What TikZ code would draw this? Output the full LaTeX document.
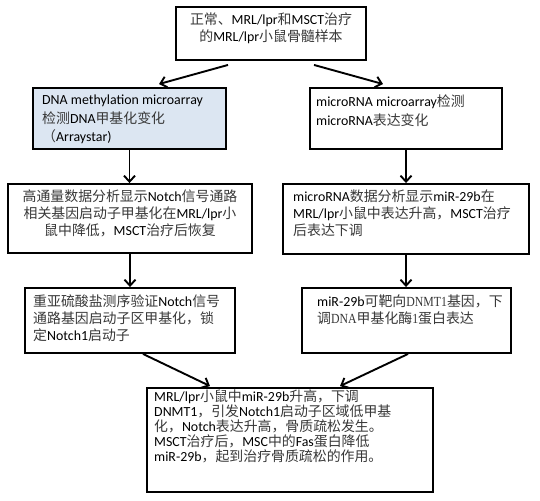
\documentclass[tikz,border=0pt]{standalone}
\usepackage{fontspec}
\setmainfont{Carlito}
\newfontfamily\cjkf{Noto Sans CJK SC}
\newfontfamily\lser{Liberation Serif}[FakeStretch=0.85]
\newcommand\zh[1]{{\cjkf\color{black!78}#1}}
\newcommand\ls[1]{{\lser\color{black!78}#1}}
\usetikzlibrary{arrows.meta}
\definecolor{lblue}{RGB}{220,230,242}
\begin{document}
\begin{tikzpicture}[x=1pt,y=-1pt,
  boxst/.style={draw=black,line width=1.9pt,inner sep=0pt},
  txt/.style={inner sep=0pt,align=left,font=\fontsize{13.9pt}{17pt}\selectfont},
  txtc/.style={inner sep=0pt,align=center,font=\fontsize{13.9pt}{17pt}\selectfont},
  arr/.style={line width=1.9pt,-{Straight Barb[length=6pt,width=11pt,line width=1.9pt]}}]
\fill[white] (0,0) rectangle (540,500);
\useasboundingbox (0,0) rectangle (540,500);
% boxes
\node[boxst,minimum width=190pt,minimum height=53pt] (top) at (271,33.5) {};
\node[boxst,fill=lblue,minimum width=193pt,minimum height=61pt] (L2) at (129.5,118.5) {};
\node[boxst,minimum width=192pt,minimum height=61pt] (R2) at (406,118.5) {};
\node[boxst,minimum width=244pt,minimum height=69pt] (L3) at (130,218.5) {};
\node[boxst,minimum width=246pt,minimum height=70pt] (R3) at (406,219) {};
\node[boxst,minimum width=210pt,minimum height=65pt] (L4) at (130,320.5) {};
\node[boxst,minimum width=209pt,minimum height=65pt] (R4) at (406.5,320.5) {};
\node[boxst,minimum width=286pt,minimum height=104pt] (F) at (290,440) {};
% texts
\node[txtc,anchor=north] (ttop) at (271,13) {\zh{正常、}MRL/lpr\zh{和}MSCT\zh{治疗}\\\zh{的}MRL/lpr\zh{小鼠骨髓样本}};
\node[txt,anchor=north west,font=\fontsize{13.9pt}{18.5pt}\selectfont] (tL2) at (42,95) {DNA methylation microarray\\\zh{检测}DNA\zh{甲基化变化}\\\zh{（}Arraystar)};
\node[txt,anchor=north west,font=\fontsize{13.9pt}{18.5pt}\selectfont] (tR2) at (316,95) {microRNA microarray\zh{检测}\\microRNA\zh{表达变化}};
\node[txtc,anchor=north] (tL3) at (130,190) {\zh{高通量数据分析显示}Notch\zh{信号通路}\\\zh{相关基因启动子甲基化在}MRL/lpr\zh{小}\\\zh{鼠中降低，}MSCT\zh{治疗后恢复}};
\node[txt,anchor=north west] (tR3) at (293,190) {microRNA\zh{数据分析显示}miR-29b\zh{在}\\MRL/lpr\zh{小鼠中表达升高，}MSCT\zh{治疗}\\\zh{后表达下调}};
\node[txt,anchor=north west] (tL4) at (33,295) {\zh{重亚硫酸盐测序验证}Notch\zh{信号}\\\zh{通路基因启动子区甲基化，锁}\\\zh{定}Notch1\zh{启动子}};
\node[txt,anchor=north west] (tR4) at (317,295) {miR-29b\zh{可靶向}\ls{DNMT1}\zh{基因，下}\\\zh{调}\ls{DNA}\zh{甲基化酶}\ls{1}\zh{蛋白表达}};
\node[txt,anchor=north west,font=\fontsize{13.9pt}{15pt}\selectfont] (tF) at (154,390) {MRL/lpr\zh{小鼠中}miR-29b\zh{升高，下调}\\DNMT1\zh{，引发}Notch1\zh{启动子区域低甲基}\\\zh{化，}Notch\zh{表达升高，骨质疏松发生。}\\MSCT\zh{治疗后，}MSC\zh{中的}Fas\zh{蛋白降低}\\miR-29b\zh{，起到治疗骨质疏松的作用。}};
% connectors
\draw[arr] ([xshift=-43pt,yshift=-4pt]top.south) -- ([xshift=29.5pt,yshift=3pt]L2.north);
\draw[arr] ([xshift=43pt,yshift=-4pt]top.south) -- ([xshift=-23pt,yshift=3pt]R2.north);
\draw[arr] (L2.south) -- (L2.south |- L3.north);
\draw[arr] (R2.south) -- (R2.south |- R3.north);
\draw[arr] (L3.south) -- (L3.south |- L4.north);
\draw[arr] (R3.south) -- (R3.south |- R4.north);
\draw[arr] ([xshift=13pt]L4.south) -- ([xshift=-80pt,yshift=1pt]F.north);
\draw[arr] ([xshift=1.5pt]R4.south) -- ([xshift=50pt,yshift=1pt]F.north);
\end{tikzpicture}
\end{document}
